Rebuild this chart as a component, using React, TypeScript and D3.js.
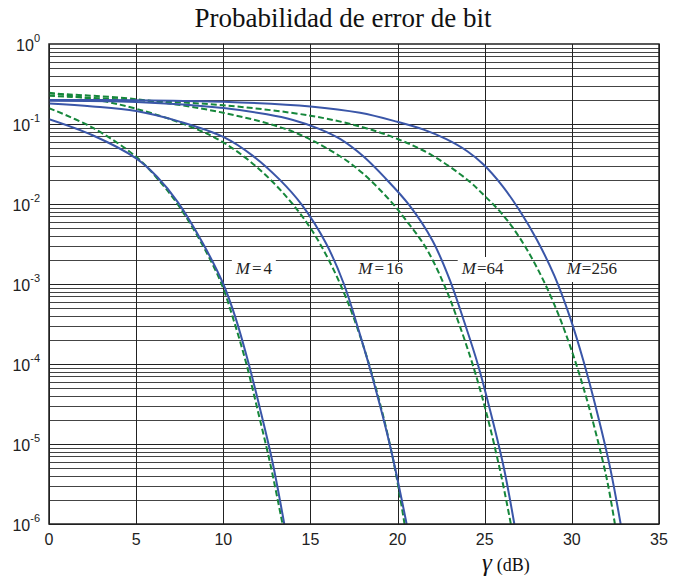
import React, { useEffect, useRef } from 'react';
import * as d3 from 'd3';

// chart size / plot box
const width = 680, height = 581;
const margin = { top: 44, right: 21, bottom: 57, left: 49 };

const gammaTicks = [0, 5, 10, 15, 20, 25, 30, 35];
const decadeExps = [0, -1, -2, -3, -4, -5, -6];

// M = 4
const gam4Exact = [0, 2.5, 5, 6.2, 7.4, 8.85, 10, 10.7, 11.4, 12.1, 12.8, 13.5];
const ber4Exact = [0.115, 0.0724, 0.0372, 0.0219, 0.0105, 3.16e-3, 1.0e-3, 3.8e-4, 1.12e-4, 2.8e-5, 6.3e-6, 1.0e-6];
const gam4Aprox = [0, 2.5, 5, 6.2, 7.4, 8.8, 9.9, 10.6, 11.3, 12.0, 12.7, 13.4];
const ber4Aprox = [0.158, 0.09, 0.039, 0.021, 0.0098, 3.1e-3, 1.0e-3, 3.5e-4, 1.05e-4, 2.5e-5, 5.6e-6, 1.0e-6];

// M = 16
const gam16Exact = [0, 2.5, 5, 7.5, 10, 11.7, 13.25, 14.5, 15.9, 16.92, 17.8, 18.6, 19.6, 20.52];
const ber16Exact = [0.18, 0.166, 0.145, 0.107, 0.069, 0.04, 0.02, 0.0098, 3.2e-3, 1e-3, 2.5e-4, 6.3e-5, 8.9e-6, 1e-6];
const gam16Aprox = [0, 2.5, 5, 8.1, 10, 12, 13.7, 15, 16, 17, 18, 19, 19.8, 20.4];
const ber16Aprox = [0.245, 0.205, 0.155, 0.093, 0.059, 0.028, 0.0118, 5e-3, 2.1e-3, 7.1e-4, 1.78e-4, 3.16e-5, 5.6e-6, 1e-6];

// M = 64
const gam64Exact = [0, 5, 10, 12.5, 14, 15.5, 16.7, 18, 19.3, 20.65, 22, 23, 23.8, 24.6, 25.4, 26.1, 26.7];
const ber64Exact = [0.195, 0.188, 0.158, 0.132, 0.112, 0.087, 0.065, 0.04, 0.021, 0.0098, 3.5e-3, 1.12e-3, 3.5e-4, 1e-4, 2.2e-5, 5e-6, 1e-6];
const gam64Aprox = [0, 5, 10, 14, 16.7, 18, 19.56, 20.5, 21.6, 22.7, 23.5, 24.4, 25.2, 25.97, 26.5];
const ber64Aprox = [0.241, 0.204, 0.138, 0.08, 0.0395, 0.0242, 0.0111, 0.0062, 2.9e-3, 9.5e-4, 3.3e-4, 8.5e-5, 2.0e-5, 3.8e-6, 1e-6];

// M = 256
const gam256Exact = [0, 5, 10, 15, 17.85, 19.95, 21.5, 22.8, 24, 24.9, 26, 27, 28, 29, 29.9, 30.65, 31.5, 32.2, 32.8];
const ber256Exact = [0.2, 0.198, 0.19, 0.166, 0.138, 0.107, 0.085, 0.0646, 0.0457, 0.0316, 0.017, 0.0083, 3.55e-3, 1.26e-3, 3.8e-4, 1.12e-4, 2.24e-5, 5e-6, 1e-6];
const gam256Aprox = [0, 5, 10, 15, 17.85, 20, 22, 24, 25, 26, 27, 28, 29, 30, 31, 32, 32.47];
const ber256Aprox = [0.225, 0.1985, 0.1715, 0.127, 0.093, 0.065, 0.0403, 0.0201, 0.0126, 0.0075, 0.0038, 0.0016, 5.5e-4, 1.45e-4, 2.8e-5, 3.7e-6, 1e-6];

// curve labels: text, gamma where the text starts, whether the box hides the grid line above
const labelNames = ['4', '16', '64', '256'];
const labelGamma = [10.72, 17.75, 23.68, 29.7];
const labelBoxHigh = [true, false, true, false];

const seriesExact = [[gam4Exact, ber4Exact], [gam16Exact, ber16Exact], [gam64Exact, ber64Exact], [gam256Exact, ber256Exact]];
const seriesAprox = [[gam4Aprox, ber4Aprox], [gam16Aprox, ber16Aprox], [gam64Aprox, ber64Aprox], [gam256Aprox, ber256Aprox]];

const blue = '#3a56a8';
const green = '#16873b';
const sans = '"Liberation Sans", Arial, sans-serif';
const serif = '"Liberation Serif", "Times New Roman", serif';

export default function App() {
  const ref = useRef<SVGSVGElement>(null);

  useEffect(() => {
    const svg = d3.select(ref.current);
    svg.selectAll('*').remove();

    const x0 = margin.left, x1 = width - margin.right;
    const y0 = margin.top, y1 = height - margin.bottom;

    const x = d3.scaleLinear().domain([0, 35]).range([x0, x1]);
    const y = d3.scaleLog().domain([1e-6, 1]).range([y1, y0]);

    svg.append('rect').attr('width', width).attr('height', height).attr('fill', '#fff');

    // clip to the plot box
    svg.append('defs').append('clipPath').attr('id', 'plotclip')
      .append('rect').attr('x', x0).attr('y', y0).attr('width', x1 - x0).attr('height', y1 - y0);

    // log grid: 1..9 x 10^k
    const gridVals: number[] = [];
    for (let k = -6; k < 0; k++) {
      for (let m = 1; m <= 9; m++) gridVals.push(m * Math.pow(10, k));
    }
    const grid = svg.append('g');
    grid.selectAll('line.h').data(gridVals).join('line')
      .attr('x1', x0).attr('x2', x1)
      .attr('y1', d => Math.round(y(d)) + 0.5).attr('y2', d => Math.round(y(d)) + 0.5)
      .attr('stroke', (d, i) => (i % 9 === 0 ? '#222' : '#444'))
      .attr('stroke-width', 1);
    grid.selectAll('line.v').data(gammaTicks).join('line')
      .attr('y1', y0).attr('y2', y1)
      .attr('x1', d => Math.round(x(d)) + 0.5).attr('x2', d => Math.round(x(d)) + 0.5)
      .attr('stroke', '#222').attr('stroke-width', 1);

    // label boxes over the grid
    const labW = [44, 52, 46, 56];
    labelNames.forEach((t, i) => {
      const lx = x(labelGamma[i]);
      const top = labelBoxHigh[i] ? 257 : 262;
      svg.append('rect')
        .attr('x', lx - 4).attr('y', top)
        .attr('width', labW[i]).attr('height', 282 - top)
        .attr('fill', '#fff');
    });

    // curves
    const line = d3.line<[number, number]>()
      .x(d => x(d[0]))
      .y(d => y(d[1]))
      .curve(d3.curveCatmullRom.alpha(0.5));

    const curves = svg.append('g').attr('clip-path', 'url(#plotclip)');
    seriesAprox.forEach(([g, p]) => {
      const pts = g.map((v, i) => [v, p[i]] as [number, number]);
      curves.append('path').attr('d', line(pts))
        .attr('fill', 'none').attr('stroke', green)
        .attr('stroke-width', 2).attr('stroke-dasharray', '6,3');
    });
    seriesExact.forEach(([g, p]) => {
      const pts = g.map((v, i) => [v, p[i]] as [number, number]);
      curves.append('path').attr('d', line(pts))
        .attr('fill', 'none').attr('stroke', blue).attr('stroke-width', 2);
    });

    // frame
    svg.append('rect')
      .attr('x', x0).attr('y', y0).attr('width', x1 - x0).attr('height', y1 - y0)
      .attr('fill', 'none').attr('stroke', '#222').attr('stroke-width', 1.5);

    // curve labels
    labelNames.forEach((t, i) => {
      const txt = svg.append('text')
        .attr('x', x(labelGamma[i])).attr('y', 274)
        .attr('font-family', serif).attr('font-size', 17).attr('fill', '#222');
      txt.append('tspan').attr('font-style', 'italic').text('M');
      txt.append('tspan').attr('dx', i >= 2 ? 1 : 2).text('=');
      txt.append('tspan').attr('dx', i >= 2 ? 0 : 2).text(t);
    });

    // x tick labels
    svg.append('g').selectAll('text').data(gammaTicks).join('text')
      .attr('x', d => x(d)).attr('y', y1 + 21)
      .attr('text-anchor', 'middle')
      .attr('font-family', sans).attr('font-size', 16).attr('fill', '#222')
      .text(d => d);

    // y tick labels 10^k
    decadeExps.forEach(k => {
      const t = svg.append('text')
        .attr('x', 40).attr('y', y(Math.pow(10, k)) + 7)
        .attr('text-anchor', 'end')
        .attr('font-family', sans).attr('font-size', 16).attr('fill', '#222');
      t.append('tspan').text('10');
      t.append('tspan').attr('dy', -9).attr('font-size', 11).text(k);
    });

    // title
    svg.append('text')
      .attr('x', 343).attr('y', 27)
      .attr('text-anchor', 'middle')
      .attr('font-family', serif).attr('font-size', 27).attr('fill', '#111')
      .text('Probabilidad de error de bit');

    // x axis label
    const xl = svg.append('text')
      .attr('x', 482).attr('y', 571)
      .attr('font-family', serif).attr('fill', '#111');
    xl.append('tspan').attr('font-style', 'italic').attr('font-size', 25).text('γ');
    xl.append('tspan').attr('dx', 5).attr('font-size', 18).text('(dB)');
  }, []);

  return (
    <svg ref={ref} width={width} height={height}
      style={{ position: 'absolute', left: 0, top: 0 }} />
  );
}
